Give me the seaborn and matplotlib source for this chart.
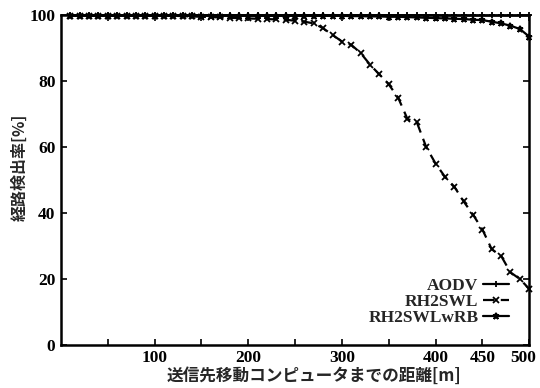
import numpy as np
import pandas as pd
import matplotlib
matplotlib.use("Agg")
import matplotlib.pyplot as plt
import matplotlib.transforms as mtransforms
import seaborn as sns

distance = list(range(10, 501, 10))

aodv = [100.0] * 40 + [99.9] * 10

rh2swl = ([99.8] * 12 +
          [99.7, 99.6, 99.5, 99.4, 99.3, 99.2, 99.1, 99.0, 98.9, 98.8, 98.7, 98.6] +
          [98.3, 98.0, 97.5, 96.0, 94.0, 92.0, 91.0, 88.5, 85.0, 82.0] +
          [79.0, 75.0, 68.5, 67.5, 60.0, 55.0, 51.0, 48.0, 43.5, 39.5] +
          [35.0, 29.0, 27.0, 22.0, 20.0, 17.0])

rh2swlwrb = ([99.8] * 30 +
             [99.7, 99.7, 99.6, 99.6, 99.5, 99.5, 99.4, 99.3, 99.2, 99.1,
              99.0, 98.9, 98.8, 98.6, 98.5, 98.0, 97.5, 96.8, 95.8, 93.5])

series_names = ["AODV", "RH2SWL", "RH2SWLwRB"]
x_ticks = [100, 200, 300, 400, 450, 500]
y_ticks = [0, 20, 40, 60, 80, 100]

sns.set_theme(style="ticks")
plt.rcParams['font.family'] = ['Liberation Serif', 'Noto Sans CJK JP']

n = len(distance)
df = pd.DataFrame({
    "distance": distance * 3,
    "rate": aodv + rh2swl + rh2swlwrb,
    "series": [series_names[0]] * n + [series_names[1]] * n + [series_names[2]] * n,
})

fig = plt.figure(figsize=(5.4, 3.88), dpi=100)
ax = fig.add_axes([0.113, 0.111, 0.867, 0.850])

styles = {
    "AODV": dict(marker="+", linestyle="-"),
    "RH2SWL": dict(marker="x", linestyle=(0, (5, 3))),
    "RH2SWLwRB": dict(marker="*", linestyle="-"),
}
for name in series_names:
    sub = df[df["series"] == name]
    st = styles[name]
    sns.lineplot(data=sub, x="distance", y="rate", ax=ax, color="black",
                 linewidth=1.6, marker=st["marker"], markersize=4.5,
                 markeredgewidth=1.3, markeredgecolor="black",
                 linestyle=st["linestyle"], label=name, clip_on=False)

ax.set_xlim(0, 500)
ax.set_ylim(0, 100)
ax.set_xticks(list(range(50, 501, 50)))
ax.set_xticklabels([str(v) if v in x_ticks else "" for v in range(50, 501, 50)])
ax.set_yticks(y_ticks)
ax.set_yticklabels([str(v) for v in y_ticks])
ax.tick_params(direction="in", length=4, width=1.2, top=True, right=True,
               labelsize=12.5, colors="black", pad=4)
for lab in ax.get_xticklabels() + ax.get_yticklabels():
    lab.set_fontweight("bold")
    lab.set_family(['Liberation Serif'])
# nudge the last x tick label slightly left so it stays inside the figure
last = ax.get_xticklabels()[-1]
last.set_transform(last.get_transform() +
                   mtransforms.ScaledTranslation(-4 / 72, 0, fig.dpi_scale_trans))
for sp in ax.spines.values():
    sp.set_linewidth(1.8)
    sp.set_color("black")

ax.set_xlabel("送信先移動コンピュータまでの距離[m]", fontsize=12, fontweight="bold",
              family=['Noto Sans CJK JP'])
ax.xaxis.set_label_coords(0.54, -0.065, transform=ax.transAxes)
ax.xaxis.label.set_va("top")
ax.set_ylabel("経路検出率[%]", fontsize=11.5, fontweight="bold",
              family=['Noto Sans CJK JP'])
ax.yaxis.set_label_coords(-0.072, 0.54, transform=ax.transAxes)

leg = ax.legend(loc="lower right", bbox_to_anchor=(0.975, 0.03), frameon=False,
                markerfirst=False, handlelength=1.5,
                labelspacing=0.0, borderpad=0.0, handletextpad=0.25,
                prop={"family": "Liberation Serif", "weight": "bold", "size": 12.5})

fig.savefig("out.png", dpi=100)
